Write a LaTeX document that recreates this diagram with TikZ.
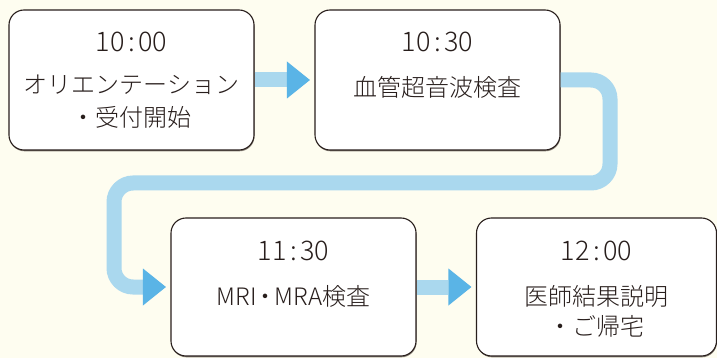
\documentclass[tikz,border=0pt]{standalone}
\usepackage{fontspec}
\IfFontExistsTF{Noto Sans CJK JP Light}{\setmainfont{Noto Sans CJK JP Light}}{\setmainfont{Noto Sans CJK JP}}
\usetikzlibrary{arrows.meta,shadows}
\definecolor{bg}{RGB}{254,253,240}
\definecolor{shaftc}{RGB}{170,216,238}
\definecolor{headc}{RGB}{90,180,230}
\definecolor{ink}{RGB}{40,30,28}
\definecolor{shadowc}{RGB}{140,132,122}
\tikzset{
  box/.style={rectangle, draw=ink, line width=1.1pt, fill=white, rounded corners=15pt,
    inner sep=0pt, drop shadow={shadow xshift=0.5pt, shadow yshift=-1.3pt, fill=shadowc, opacity=1}},
  timetxt/.style={anchor=base, inner sep=0pt, text=ink, font=\fontsize{27}{27}\selectfont},
  jptxt/.style={anchor=base, inner sep=0pt, text=ink, font=\fontsize{24}{24}\selectfont},
  flow/.style={draw=shaftc, line width=15pt, rounded corners=19pt,
    -{Triangle[length=23pt 0 0, width=37pt 0 0, line width=0pt, color=headc, fill=headc]},
    shorten >=4.5pt},
}
\newcommand{\tm}[2]{#1\kern3.5pt:\kern3.5pt#2}
\begin{document}
\begin{tikzpicture}[x=1pt,y=-1pt]
\useasboundingbox[fill=bg] (0,0) rectangle (717,358);
% boxes
\node[box, minimum width=245pt, minimum height=140pt] (b1) at (131.5,80) {};
\node[box, minimum width=245pt, minimum height=140pt] (b2) at (437.5,80) {};
\node[box, minimum width=245pt, minimum height=138pt] (b3) at (293.5,287) {};
\node[box, minimum width=240pt, minimum height=138pt] (b4) at (596.5,287) {};
% texts
\node[timetxt] (t1) at (131.5,51.7) {\tm{10}{00}};
\node[jptxt] (l1a) at (131.5,93.6) {オリエンテーション};
\node[jptxt] (l1b) at (131.5,126.6) {・受付開始};
\node[timetxt] (t2) at (437.5,51.7) {\tm{10}{30}};
\node[jptxt] (l2a) at (437.5,97) {血管超音波検査};
\node[timetxt] (t3) at (293.5,260) {\tm{11}{30}};
\node[jptxt] (l3a) at (293.5,305.6) {MRI\kern-3pt・\kern-3pt MRA検査};
\node[timetxt] (t4) at (596.5,260) {\tm{12}{00}};
\node[jptxt] (l4a) at (596.5,305.6) {医師結果説明};
\node[jptxt] (l4b) at (596.5,335) {・ご帰宅};
% connectors
\coordinate (r1) at (610,183);
\coordinate (r2) at (114,183);
\draw[flow] (b1.east) -- (b2.west);
\draw[flow] (b2.east) -| (r1) -- (r2) |- (b3.west);
\draw[flow] (b3.east) -- (b4.west);
\end{tikzpicture}
\end{document}
